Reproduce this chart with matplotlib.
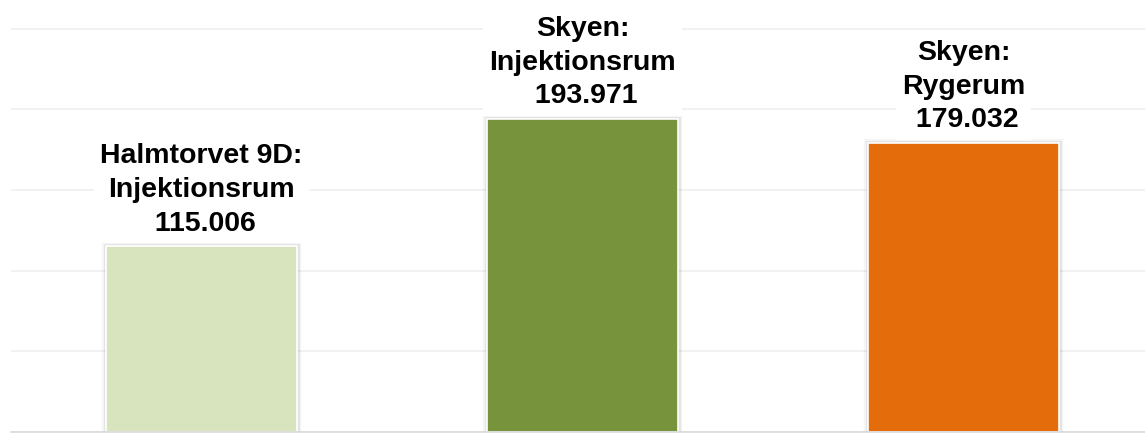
import matplotlib.pyplot as plt
from matplotlib import patheffects as pe

# Data
steder = ['Halmtorvet 9D:\nInjektionsrum', 'Skyen:\nInjektionsrum', 'Skyen:\nRygerum']
antal = [115006, 193971, 179032]
farver = ['#D7E4BD', '#77933C', '#E46C0A']

plt.rcParams['font.family'] = ['Liberation Sans', 'DejaVu Sans']

fig = plt.figure(figsize=(11.45, 4.33), dpi=100)
ax = fig.add_axes([11 / 1145, 1 / 433, 1134 / 1145, 432 / 433])

x = list(range(len(antal)))
skygge = [pe.Stroke(linewidth=6, foreground='black', alpha=0.04),
          pe.Stroke(linewidth=3.5, foreground='black', alpha=0.07),
          pe.Normal()]
bars = ax.bar(x, antal, width=0.5, color=farver, edgecolor='white',
              linewidth=1.2, zorder=2)
for b in bars:
    b.set_path_effects(skygge)

for xi, sted, v in zip(x, steder, antal):
    tekst = sted + '\n ' + f'{v:,}'.replace(',', '.')
    ax.annotate(tekst, xy=(xi, v), xytext=(0, 7), textcoords='offset points',
                ha='center', va='bottom', multialignment='center',
                fontsize=20.5, fontweight='bold', color='black', zorder=4,
                linespacing=1.38,
                bbox=dict(boxstyle='square,pad=0.22', fc='white', ec='none'))

ax.set_xlim(-0.5, -0.5 + 1134 / 381)
ax.set_ylim(0, 267700)
ax.set_yticks(range(0, 250001, 50000))
ax.yaxis.grid(True, color='#EFEFEF', linewidth=1.2)
ax.set_axisbelow(True)
ax.tick_params(left=False, bottom=False, labelleft=False, labelbottom=False)
for s in ['top', 'right', 'left']:
    ax.spines[s].set_visible(False)
ax.spines['bottom'].set_color('#D9D9D9')
ax.spines['bottom'].set_linewidth(1.2)

fig.savefig('out.png', dpi=100)
